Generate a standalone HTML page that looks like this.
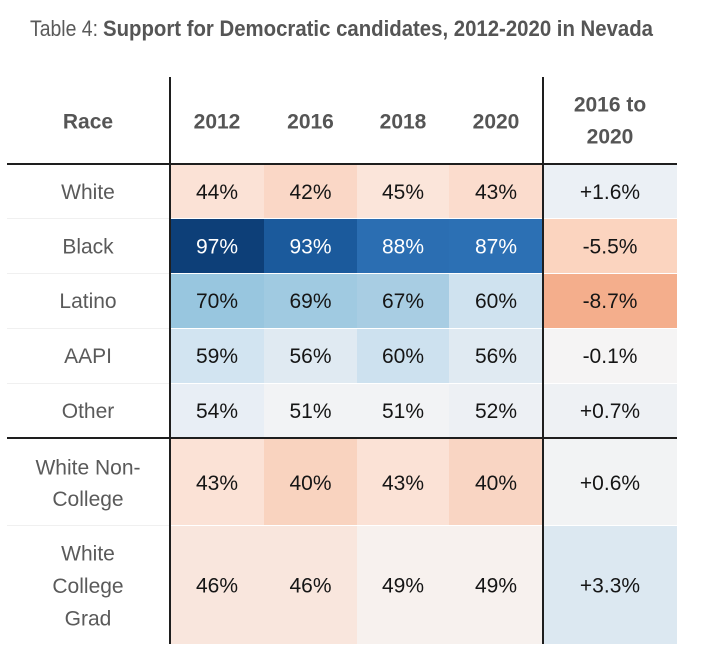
<!DOCTYPE html>
<html>
<head>
<meta charset="utf-8">
<style>
  html,body{margin:0;padding:0;background:#fff;}
  svg{display:block;}
  text{font-family:"Liberation Sans",sans-serif;}
</style>
</head>
<body>
<svg width="710" height="665" viewBox="0 0 710 665" xmlns="http://www.w3.org/2000/svg">
  <rect width="710" height="665" fill="#fff"/>
  <!-- Title -->
  <text x="30" y="36" font-size="22" fill="#5a5a5a" textLength="68" lengthAdjust="spacingAndGlyphs">Table 4:</text>
  <text x="103" y="36" font-size="22" font-weight="bold" fill="#555" textLength="550" lengthAdjust="spacingAndGlyphs">Support for Democratic candidates, 2012-2020 in Nevada</text>

  <!-- Cells -->
  <g shape-rendering="crispEdges">
    <!-- White row 164-219 -->
    <rect x="170" y="165" width="94" height="53" fill="#fbe2d6"/>
    <rect x="264" y="165" width="93" height="53" fill="#fad7c6"/>
    <rect x="357" y="165" width="92" height="53" fill="#fbe5da"/>
    <rect x="449" y="165" width="94" height="53" fill="#fbdccd"/>
    <rect x="543" y="165" width="134" height="53" fill="#ebf0f5"/>
    <!-- Black row 219-273 -->
    <rect x="170" y="219" width="94" height="54" fill="#0d3f78"/>
    <rect x="264" y="219" width="93" height="54" fill="#1b5a9c"/>
    <rect x="357" y="219" width="92" height="54" fill="#2b6eb2"/>
    <rect x="449" y="219" width="94" height="54" fill="#2c70b4"/>
    <rect x="543" y="219" width="134" height="54" fill="#fbd4bf"/>
    <!-- Latino row 273-328 -->
    <rect x="170" y="274" width="94" height="54" fill="#98c6df"/>
    <rect x="264" y="274" width="93" height="54" fill="#a0cae1"/>
    <rect x="357" y="274" width="92" height="54" fill="#a8cde3"/>
    <rect x="449" y="274" width="94" height="54" fill="#cfe2ef"/>
    <rect x="543" y="274" width="134" height="54" fill="#f4ae8c"/>
    <!-- AAPI row 328-383 -->
    <rect x="170" y="329" width="94" height="54" fill="#d2e4f1"/>
    <rect x="264" y="329" width="93" height="54" fill="#e0eaf2"/>
    <rect x="357" y="329" width="92" height="54" fill="#cde1ef"/>
    <rect x="449" y="329" width="94" height="54" fill="#e0eaf2"/>
    <rect x="543" y="329" width="134" height="54" fill="#f5f4f4"/>
    <!-- Other row 383-438 -->
    <rect x="170" y="384" width="94" height="54" fill="#e8eef5"/>
    <rect x="264" y="384" width="93" height="54" fill="#f2f3f5"/>
    <rect x="357" y="384" width="92" height="54" fill="#f2f3f5"/>
    <rect x="449" y="384" width="94" height="54" fill="#edf0f4"/>
    <rect x="543" y="384" width="134" height="54" fill="#eef1f4"/>
    <!-- White Non-College 438-525 -->
    <rect x="170" y="439" width="94" height="86" fill="#fbe2d6"/>
    <rect x="264" y="439" width="93" height="86" fill="#f9d3bf"/>
    <rect x="357" y="439" width="92" height="86" fill="#fbe2d6"/>
    <rect x="449" y="439" width="94" height="86" fill="#f9d5c3"/>
    <rect x="543" y="439" width="134" height="86" fill="#f2f3f4"/>
    <!-- White College Grad 525-644 -->
    <rect x="170" y="526" width="94" height="118" fill="#f9e6dd"/>
    <rect x="264" y="526" width="93" height="118" fill="#f9e6dd"/>
    <rect x="357" y="526" width="92" height="118" fill="#f7f1ee"/>
    <rect x="449" y="526" width="94" height="118" fill="#f7f1ee"/>
    <rect x="543" y="526" width="134" height="118" fill="#dce8f1"/>

    <!-- faint separators in label column -->
    <g fill="#f0f0f0">
      <rect x="7" y="218" width="163" height="1"/>
      <rect x="7" y="273" width="163" height="1"/>
      <rect x="7" y="328" width="163" height="1"/>
      <rect x="7" y="383" width="163" height="1"/>
      <rect x="7" y="525" width="163" height="1"/>
    </g>

    <!-- black rules -->
    <rect x="169" y="77" width="2" height="567" fill="#1e1e1e"/>
    <rect x="542" y="77" width="2" height="567" fill="#1e1e1e"/>
    <rect x="7" y="163" width="670" height="2" fill="#1e1e1e"/>
    <rect x="7" y="437" width="670" height="2" fill="#1e1e1e"/>
  </g>

  <!-- Header -->
  <g font-size="21" font-weight="bold" fill="#555" text-anchor="middle">
    <text x="88" y="128.5">Race</text>
    <text x="217" y="128.5">2012</text>
    <text x="310.5" y="128.5">2016</text>
    <text x="403" y="128.5">2018</text>
    <text x="496" y="128.5">2020</text>
    <text x="610" y="111.5">2016 to</text>
    <text x="610" y="143.5">2020</text>
  </g>

  <!-- Row labels -->
  <g font-size="21" fill="#5a5a5a" text-anchor="middle">
    <text x="88" y="199">White</text>
    <text x="88" y="253.5">Black</text>
    <text x="88" y="308">Latino</text>
    <text x="88" y="363">AAPI</text>
    <text x="88" y="418">Other</text>
    <text x="88" y="474.5">White Non-</text>
    <text x="88" y="506">College</text>
    <text x="88" y="560.5">White</text>
    <text x="88" y="593">College</text>
    <text x="88" y="625.5">Grad</text>
  </g>

  <!-- Data -->
  <g font-size="21" fill="#151515" text-anchor="middle">
    <text x="217" y="199">44%</text>
    <text x="310.5" y="199">42%</text>
    <text x="403" y="199">45%</text>
    <text x="496" y="199">43%</text>
    <text x="610" y="199">+1.6%</text>

    <text x="217" y="253.5" fill="#fff">97%</text>
    <text x="310.5" y="253.5" fill="#fff">93%</text>
    <text x="403" y="253.5" fill="#fff">88%</text>
    <text x="496" y="253.5" fill="#fff">87%</text>
    <text x="610" y="253.5">-5.5%</text>

    <text x="217" y="308">70%</text>
    <text x="310.5" y="308">69%</text>
    <text x="403" y="308">67%</text>
    <text x="496" y="308">60%</text>
    <text x="610" y="308">-8.7%</text>

    <text x="217" y="363">59%</text>
    <text x="310.5" y="363">56%</text>
    <text x="403" y="363">60%</text>
    <text x="496" y="363">56%</text>
    <text x="610" y="363">-0.1%</text>

    <text x="217" y="418">54%</text>
    <text x="310.5" y="418">51%</text>
    <text x="403" y="418">51%</text>
    <text x="496" y="418">52%</text>
    <text x="610" y="418">+0.7%</text>

    <text x="217" y="490">43%</text>
    <text x="310.5" y="490">40%</text>
    <text x="403" y="490">43%</text>
    <text x="496" y="490">40%</text>
    <text x="610" y="490">+0.6%</text>

    <text x="217" y="592.5">46%</text>
    <text x="310.5" y="592.5">46%</text>
    <text x="403" y="592.5">49%</text>
    <text x="496" y="592.5">49%</text>
    <text x="610" y="592.5">+3.3%</text>
  </g>
</svg>
</body>
</html>
